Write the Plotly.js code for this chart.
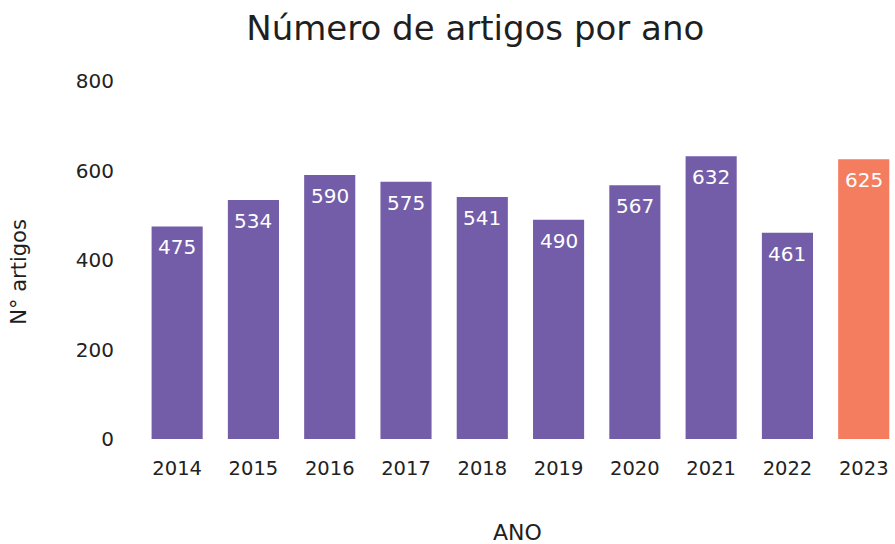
<!DOCTYPE html>
<html>
<head>
<meta charset="utf-8">
<script src="https://cdn.plot.ly/plotly-3.0.1.min.js"></script>
<style>html,body{margin:0;padding:0;background:#fff;}#chart{width:895px;height:544px;}</style>
</head>
<body>
<div id="chart"></div>
<script>
const years = ['2014','2015','2016','2017','2018','2019','2020','2021','2022','2023'];
const counts = [475, 534, 590, 575, 541, 490, 567, 632, 461, 625];
const barColors = ['#735DA8','#735DA8','#735DA8','#735DA8','#735DA8','#735DA8','#735DA8','#735DA8','#735DA8','#F47D5F'];
const yTicks = [0, 200, 400, 600, 800];

const FONT = 'DejaVu Sans, Open Sans, sans-serif';

const trace = {
  type: 'bar',
  x: years,
  y: counts,
  marker: {color: barColors},
  hoverinfo: 'x+y'
};

const labelAnnots = years.map((yr, i) => ({
  x: i, y: counts[i], xref: 'x', yref: 'y',
  text: String(counts[i]), showarrow: false,
  yanchor: 'middle', yshift: -21,
  font: {family: FONT, size: 20, color: '#ffffff'}
}));

const layout = {
  width: 895, height: 544,
  margin: {l: 139, r: 0, t: 81, b: 105},
  paper_bgcolor: '#ffffff', plot_bgcolor: '#ffffff',
  bargap: 0.33,
  showlegend: false,
  title: {text: 'Número de artigos por ano', x: 0.531, xanchor: 'center', y: 0.948, yanchor: 'middle',
          font: {family: FONT, size: 34, color: '#1f1f1f'}},
  xaxis: {
    type: 'category', range: [-0.5, 9.41],
    showgrid: false, zeroline: false, showline: false, ticks: '',
    ticklabelstandoff: 15,
    tickfont: {family: FONT, size: 19.5, color: '#222222'}
  },
  yaxis: {
    range: [0, 800], tickvals: yTicks, ticktext: yTicks.map(String),
    showgrid: false, zeroline: false, showline: false, ticks: '',
    ticklabelstandoff: 24,
    tickfont: {family: FONT, size: 20, color: '#222222'}
  },
  annotations: labelAnnots.concat([
    {text: 'N° artigos', xref: 'paper', yref: 'paper', x: -0.158, y: 0.466, textangle: -90,
     showarrow: false, xanchor: 'center', yanchor: 'middle',
     font: {family: FONT, size: 21, color: '#1f1f1f'}},
    {text: 'ANO', xref: 'paper', yref: 'paper', x: 0.5, y: -0.262,
     showarrow: false, xanchor: 'center', yanchor: 'middle',
     font: {family: FONT, size: 22, color: '#1f1f1f'}}
  ])
};

Plotly.newPlot('chart', [trace], layout, {displayModeBar: false, responsive: false});
</script>
</body>
</html>
